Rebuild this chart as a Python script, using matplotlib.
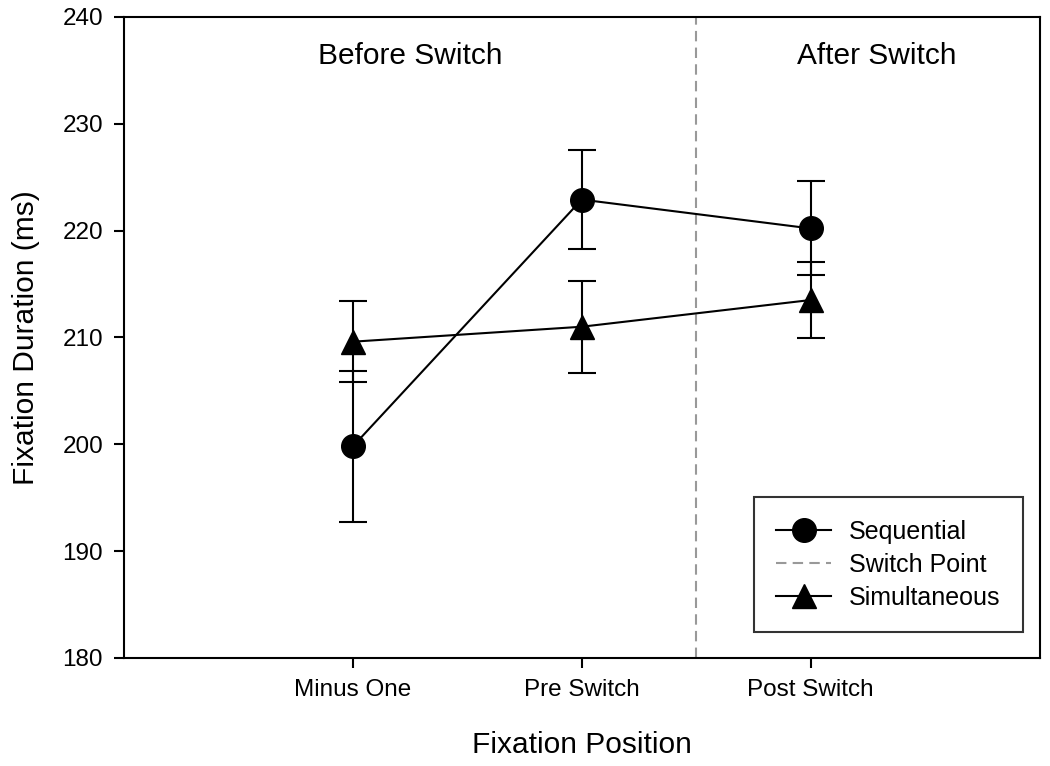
import matplotlib
matplotlib.use("Agg")
import matplotlib.pyplot as plt
from matplotlib.lines import Line2D

plt.rcParams["font.family"] = ["Liberation Sans", "DejaVu Sans"]

positions = ["Minus One", "Pre Switch", "Post Switch"]
x = [1, 2, 3]

sequential = [199.8, 222.9, 220.2]
sequential_err = [7.1, 4.6, 4.4]
simultaneous = [209.6, 211.0, 213.5]
simultaneous_err = [3.8, 4.3, 3.6]

switch_x = 2.5

fig = plt.figure(figsize=(10.5, 7.66), dpi=100)
ax = fig.add_axes([0.118, 0.141, 0.872, 0.837])

common = dict(color="black", lw=1.5, elinewidth=1.5, capsize=10, capthick=1.5,
              markersize=17, markeredgecolor="black", markerfacecolor="black")
ax.errorbar(x, sequential, yerr=sequential_err, marker="o", zorder=3, **common)
ax.errorbar(x, simultaneous, yerr=simultaneous_err, marker="^", zorder=3, **common)
ax.axvline(switch_x, color="#999999", ls=(0, (5, 3)), lw=1.5, zorder=1)

ax.text(1.25, 236.3, "Before Switch", ha="center", va="center", fontsize=21.5)
ax.text(3.29, 236.3, "After Switch", ha="center", va="center", fontsize=21.5)

ax.set_xlim(0, 4)
ax.set_ylim(180, 240)
ax.set_xticks(x)
ax.set_xticklabels(positions)
ax.set_yticks(range(180, 241, 10))
ax.tick_params(axis="both", direction="out", length=7, width=1.5,
               labelsize=17.5, pad=8)
for s in ax.spines.values():
    s.set_linewidth(1.5)

ax.set_xlabel("Fixation Position", fontsize=21.5, labelpad=22)
ax.set_ylabel("Fixation Duration (ms)", fontsize=21.5, labelpad=16)

handles = [
    Line2D([], [], color="black", lw=1.5, marker="o", markersize=17),
    Line2D([], [], color="#999999", lw=1.5, ls=(0, (5, 3))),
    Line2D([], [], color="black", lw=1.5, marker="^", markersize=17),
]
leg = ax.legend(handles, ["Sequential", "Switch Point", "Simultaneous"],
                loc="lower right", bbox_to_anchor=(1.001, 0.013),
                fontsize=18, frameon=True, fancybox=False, edgecolor="black",
                handlelength=2.2, handletextpad=0.7, labelspacing=0.36,
                borderpad=0.9, borderaxespad=0.7)
leg.get_frame().set_linewidth(1.5)

fig.savefig("out.png", dpi=100)
